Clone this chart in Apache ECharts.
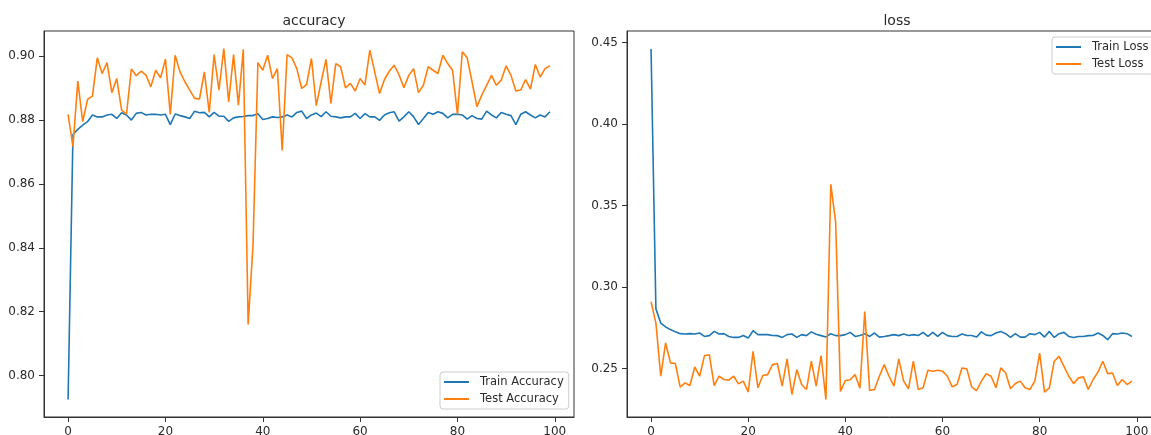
<!DOCTYPE html>
<html>
<head>
<meta charset="utf-8">
<script src="https://cdn.jsdelivr.net/npm/echarts@6/dist/echarts.min.js"></script>
<style>
  html, body { margin: 0; padding: 0; background: #fff; }
  #chart { width: 1151px; height: 435px; }
</style>
</head>
<body>
<div id="chart"></div>
<script>
// ---- data ----
const trainAccuracy = [
  0.7925, 0.8755, 0.8771, 0.8784, 0.8795, 0.8816, 0.8810, 0.8810, 0.8816, 0.8818,
  0.8805, 0.8823, 0.8816, 0.8800, 0.8821, 0.8824, 0.8816, 0.8818, 0.8818, 0.8816,
  0.8818, 0.8786, 0.8819, 0.8814, 0.8810, 0.8805, 0.8828, 0.8823, 0.8824, 0.8810,
  0.8824, 0.8812, 0.8812, 0.8796, 0.8807, 0.8810, 0.8811, 0.8814, 0.8814, 0.8820,
  0.8802, 0.8805, 0.8810, 0.8808, 0.8810, 0.8816, 0.8810, 0.8824, 0.8828, 0.8805,
  0.8816, 0.8822, 0.8811, 0.8826, 0.8812, 0.8810, 0.8807, 0.8810, 0.8810, 0.8821,
  0.8805, 0.8820, 0.8810, 0.8810, 0.8799, 0.8816, 0.8823, 0.8826, 0.8797, 0.8810,
  0.8826, 0.8810, 0.8786, 0.8805, 0.8824, 0.8818, 0.8826, 0.8821, 0.8807, 0.8818,
  0.8818, 0.8816, 0.8803, 0.8814, 0.8805, 0.8803, 0.8828, 0.8816, 0.8807, 0.8824,
  0.8818, 0.8814, 0.8786, 0.8818, 0.8826, 0.8816, 0.8807, 0.8816, 0.8810, 0.8826
];
const testAccuracy = [
  0.8818, 0.8717, 0.8922, 0.8795, 0.8865, 0.8875, 0.8995, 0.8946, 0.8980, 0.8886,
  0.8930, 0.8831, 0.8819, 0.8960, 0.8939, 0.8953, 0.8941, 0.8904, 0.8956, 0.8932,
  0.8991, 0.8818, 0.9003, 0.8951, 0.8920, 0.8894, 0.8868, 0.8866, 0.8951, 0.8824,
  0.9005, 0.8894, 0.9024, 0.8857, 0.9005, 0.8847, 0.9022, 0.8160, 0.8410, 0.8980,
  0.8956, 0.9003, 0.8930, 0.8961, 0.8705, 0.9005, 0.8995, 0.8961, 0.8899, 0.8911,
  0.8993, 0.8845, 0.8920, 0.8990, 0.8852, 0.8977, 0.8967, 0.8901, 0.8915, 0.8891,
  0.8930, 0.8910, 0.9019, 0.8951, 0.8883, 0.8927, 0.8953, 0.8972, 0.8942, 0.8901,
  0.8940, 0.8961, 0.8886, 0.8909, 0.8967, 0.8956, 0.8946, 0.9003, 0.8977, 0.8956,
  0.8818, 0.9014, 0.8995, 0.8920, 0.8842, 0.8878, 0.8909, 0.8940, 0.8909, 0.8925,
  0.8970, 0.8940, 0.8891, 0.8894, 0.8927, 0.8897, 0.8974, 0.8935, 0.8961, 0.8970
];
const trainLoss = [
  0.4460, 0.2866, 0.2779, 0.2755, 0.2739, 0.2725, 0.2714, 0.2712, 0.2714, 0.2712,
  0.2718, 0.2697, 0.2702, 0.2728, 0.2712, 0.2714, 0.2697, 0.2691, 0.2691, 0.2703,
  0.2687, 0.2732, 0.2708, 0.2708, 0.2708, 0.2703, 0.2702, 0.2691, 0.2708, 0.2712,
  0.2691, 0.2708, 0.2702, 0.2725, 0.2711, 0.2702, 0.2693, 0.2714, 0.2702, 0.2702,
  0.2708, 0.2722, 0.2697, 0.2703, 0.2714, 0.2697, 0.2718, 0.2693, 0.2697, 0.2702,
  0.2708, 0.2702, 0.2712, 0.2703, 0.2708, 0.2703, 0.2722, 0.2697, 0.2722, 0.2697,
  0.2722, 0.2702, 0.2697, 0.2697, 0.2712, 0.2703, 0.2703, 0.2693, 0.2725, 0.2705,
  0.2702, 0.2718, 0.2728, 0.2714, 0.2691, 0.2714, 0.2693, 0.2693, 0.2714, 0.2708,
  0.2722, 0.2693, 0.2728, 0.2691, 0.2714, 0.2722, 0.2697, 0.2691, 0.2697, 0.2697,
  0.2702, 0.2703, 0.2718, 0.2703, 0.2677, 0.2714, 0.2712, 0.2718, 0.2714, 0.2697
];
const testLoss = [
  0.2910, 0.2779, 0.2453, 0.2657, 0.2535, 0.2531, 0.2386, 0.2412, 0.2396, 0.2510,
  0.2453, 0.2579, 0.2585, 0.2396, 0.2453, 0.2433, 0.2429, 0.2453, 0.2406, 0.2423,
  0.2356, 0.2606, 0.2382, 0.2457, 0.2463, 0.2524, 0.2531, 0.2392, 0.2559, 0.2341,
  0.2494, 0.2402, 0.2372, 0.2545, 0.2392, 0.2579, 0.2311, 0.3630, 0.3400, 0.2360,
  0.2427, 0.2431, 0.2463, 0.2380, 0.2850, 0.2366, 0.2372, 0.2453, 0.2524, 0.2453,
  0.2392, 0.2559, 0.2423, 0.2376, 0.2545, 0.2372, 0.2382, 0.2490, 0.2484, 0.2490,
  0.2484, 0.2453, 0.2388, 0.2402, 0.2504, 0.2498, 0.2388, 0.2364, 0.2423, 0.2468,
  0.2453, 0.2382, 0.2504, 0.2473, 0.2376, 0.2408, 0.2423, 0.2382, 0.2372, 0.2423,
  0.2595, 0.2356, 0.2382, 0.2545, 0.2575, 0.2514, 0.2453, 0.2408, 0.2443, 0.2449,
  0.2372, 0.2433, 0.2478, 0.2545, 0.2469, 0.2473, 0.2396, 0.2433, 0.2402, 0.2423
];
const epochTicks = [0, 20, 40, 60, 80, 100];
const accuracyTicks = [0.80, 0.82, 0.84, 0.86, 0.88, 0.90];
const lossTicks = [0.25, 0.30, 0.35, 0.40, 0.45];
const titles = ['accuracy', 'loss'];
const accNames = ['Train Accuracy', 'Test Accuracy'];
const lossNames = ['Train Loss', 'Test Loss'];

// ---- chart ----
const FONT = "'DejaVu Sans', sans-serif";
const TXT = '#2a2a2a';
const SPINE = '#333';
const BLUE = '#1f77b4', ORANGE = '#ff7f0e';
const pairs = arr => arr.map((v, i) => [i, v]);

function xAxisFor(gridIndex) {
  return {
    type: 'value', gridIndex,
    min: -4.95, max: 103.95,
    axisLine: { show: true, onZero: false, lineStyle: { color: SPINE, width: 1 } },
    splitLine: { show: false },
    axisTick: { show: true, length: 5, customValues: epochTicks, lineStyle: { color: SPINE } },
    axisLabel: { customValues: epochTicks, margin: 9, color: TXT, fontSize: 12, fontFamily: FONT }
  };
}
function yAxisFor(gridIndex, min, max, ticks) {
  return {
    type: 'value', gridIndex, min, max, scale: true,
    axisLine: { show: true, onZero: false, lineStyle: { color: SPINE, width: 1 } },
    splitLine: { show: false },
    axisTick: { show: true, length: 5, customValues: ticks, lineStyle: { color: SPINE } },
    axisLabel: { customValues: ticks, margin: 9, color: TXT, fontSize: 12, fontFamily: FONT,
                 formatter: v => v.toFixed(2) }
  };
}
function lineSeries(name, data, color, xi, yi) {
  return {
    type: 'line', name, data: pairs(data), xAxisIndex: xi, yAxisIndex: yi,
    showSymbol: false, symbol: 'none', clip: true,
    lineStyle: { color, width: 1.6 }, itemStyle: { color }
  };
}
function legendFor(names, left, top) {
  return {
    data: names, orient: 'vertical', left, top,
    icon: 'rect', itemWidth: 25, itemHeight: 2, itemGap: 3,
    padding: [3, 5, 3, 4],
    backgroundColor: '#fff', borderColor: '#ccc', borderWidth: 1, borderRadius: 3,
    selectedMode: false,
    textStyle: { fontSize: 11.5, fontFamily: FONT, color: TXT, lineHeight: 14, padding: [0, 0, 0, 6] }
  };
}

const chart = echarts.init(document.getElementById('chart'), null, { renderer: 'canvas' });
chart.setOption({
  animation: false,
  backgroundColor: '#fff',
  title: [
    { text: titles[0], left: 309, top: 9, textAlign: 'center',
      textStyle: { fontSize: 14, fontWeight: 'normal', color: TXT, fontFamily: FONT } },
    { text: titles[1], left: 892, top: 9, textAlign: 'center',
      textStyle: { fontSize: 14, fontWeight: 'normal', color: TXT, fontFamily: FONT } }
  ],
  grid: [
    { left: 44, top: 31, width: 530, height: 386, outerBoundsMode: 'none', containLabel: false,
      show: true, borderColor: SPINE, borderWidth: 1, backgroundColor: 'transparent' },
    { left: 627, top: 31, width: 529, height: 386, outerBoundsMode: 'none', containLabel: false,
      show: true, borderColor: SPINE, borderWidth: 1, backgroundColor: 'transparent' }
  ],
  xAxis: [xAxisFor(0), xAxisFor(1)],
  yAxis: [
    yAxisFor(0, 0.787, 0.9079, accuracyTicks),
    yAxisFor(1, 0.2203, 0.4570, lossTicks)
  ],
  legend: [
    legendFor(accNames, 440, 372),
    legendFor(lossNames, 1052, 37)
  ],
  series: [
    lineSeries(accNames[0], trainAccuracy, BLUE, 0, 0),
    lineSeries(accNames[1], testAccuracy, ORANGE, 0, 0),
    lineSeries(lossNames[0], trainLoss, BLUE, 1, 1),
    lineSeries(lossNames[1], testLoss, ORANGE, 1, 1)
  ]
});
</script>
</body>
</html>
